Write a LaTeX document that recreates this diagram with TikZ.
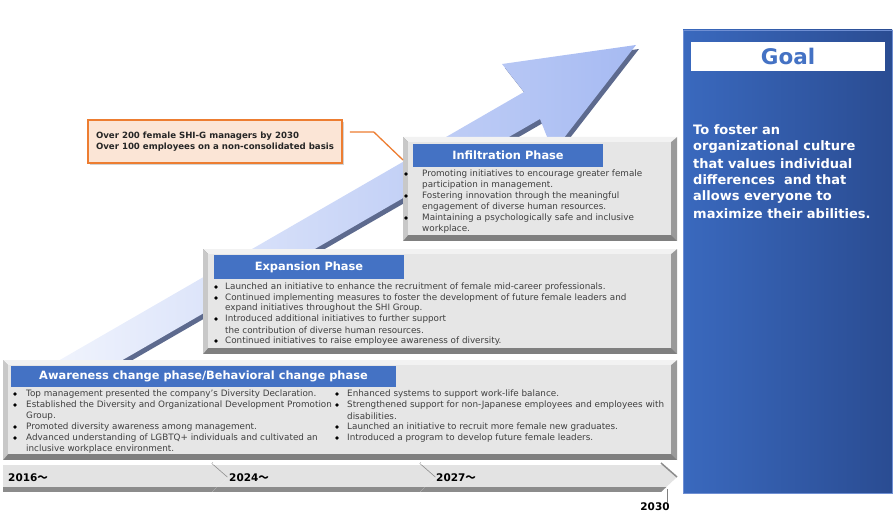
\documentclass[tikz,border=0pt]{standalone}
\usepackage{fontspec}
\setmainfont{DejaVu Sans}
\newfontfamily\cjkfont{Noto Sans CJK JP}
\usepackage{tikz}
\usepackage{xcolor}
\usetikzlibrary{shadows}
\usetikzlibrary{calc}
\usetikzlibrary{positioning}

\definecolor{headblue}{HTML}{4472C4}
\definecolor{bodygray}{HTML}{3F3F3F}
\definecolor{bevface}{HTML}{E6E6E6}
\definecolor{bevtop}{HTML}{F2F2F2}
\definecolor{bevleft}{HTML}{C8C8C8}
\definecolor{bevright}{HTML}{9A9A9A}
\definecolor{bevbottom}{HTML}{7F7F7F}
\definecolor{arrowpale}{HTML}{F2F5FD}
\definecolor{arrowblue}{HTML}{A6BAF2}
\definecolor{arrowside}{HTML}{5D6A8E}
\definecolor{goalleft}{HTML}{3A69BE}
\definecolor{goalright}{HTML}{2A4C92}
\definecolor{goalrim}{HTML}{6F8FD3}
\definecolor{calloutfill}{HTML}{FBE5D6}
\definecolor{calloutline}{HTML}{ED7D31}
\definecolor{bandface}{HTML}{E3E3E3}
\definecolor{bandedge}{HTML}{8C8C8C}

% 3D gray frame: x0 y0 x1 y1
\newcommand{\bevelframe}[4]{%
  \fill[bevbottom] (#1,#2) rectangle (#3,#4);
  \fill[bevright] (#3,#2) -- (#3,#4) -- (#3-6,#4-6) -- (#3-6,#2+5) -- cycle;
  \fill[bevtop] (#1,#2) -- (#3,#2) -- (#3-6,#2+5) -- (#1+5,#2+5) -- cycle;
  \fill[bevleft] (#1,#2) -- (#1+5,#2+5) -- (#1+5,#4-6) -- (#1,#4) -- cycle;
  \fill[bevface] (#1+5,#2+5) rectangle (#3-6,#4-6);
}

\begin{document}
\begin{tikzpicture}[x=1pt, y=-1pt,
  item/.style={anchor=west, inner sep=0pt, text=bodygray, font=\fontsize{8.8}{10}\selectfont},
  phasehead/.style={fill=headblue, text=white, inner sep=0pt, font=\bfseries\fontsize{11.4}{13}\selectfont},
  yearlbl/.style={anchor=west, inner sep=0pt, font=\bfseries\fontsize{10.5}{12}\selectfont},
  callout/.style={fill=calloutfill, draw=calloutline, line width=1.6pt, align=left, inner sep=0pt,
    text=black!85, font=\bfseries\fontsize{8.6}{11}\selectfont,
    drop shadow={shadow xshift=2pt, shadow yshift=-2pt, opacity=0.35}},
  goalline/.style={anchor=west, inner sep=0pt, text=white, font=\bfseries\fontsize{13}{15}\selectfont},
  leader/.style={draw=calloutline, line width=1.3pt}]
\useasboundingbox (0,0) rectangle (893,521);

%Arrow
\fill[arrowside] (42,376) -- (527,96) -- (505,68) -- (639,49) -- (556,156) -- (543,123) -- (58,403) -- cycle;
\shade[left color=arrowpale, right color=arrowblue]
  (39,372) -- (524,92) -- (502,64) -- (636,45) -- (553,152) -- (540,119) -- (55,399) -- cycle;

%Infiltration
\bevelframe{403}{137}{677}{241}
\path (403,160) coordinate (inflin);
\node[phasehead, minimum width=190pt, minimum height=23pt] (inflhead) at (508,155.5) {Infiltration Phase};
\foreach \ry/\rt in {174/Promoting initiatives to encourage greater female,
                      185/participation in management.,
                      196/Fostering innovation through the meaningful,
                      207/engagement of diverse human resources.,
                      218/Maintaining a psychologically safe and inclusive,
                      229/workplace.}
  \node[item] at (422,\ry) {\rt};
\foreach \ry in {174,196,218}
  \fill[black] (406,\ry) circle (1.9);

%Expansion
\bevelframe{203}{249}{677}{354}
\node[phasehead, minimum width=190pt, minimum height=24pt] (expahead) at (309,267) {Expansion Phase};
\foreach \ry/\rt in {287/Launched an initiative to enhance the recruitment of female mid-career professionals.,
                      298/Continued implementing measures to foster the development of future female leaders and,
                      308.5/expand initiatives throughout the SHI Group.,
                      319/Introduced additional initiatives to further support,
                      330/the contribution of diverse human resources.,
                      341/Continued initiatives to raise employee awareness of diversity.}
  \node[item] at (225,\ry) {\rt};
\foreach \ry in {287,298,319,341}
  \fill[black] (216,\ry) circle (1.9);

%Awareness
\bevelframe{3}{360}{677}{460}
\node[phasehead, minimum width=385pt, minimum height=21pt] (awarhead) at (203.5,376.5) {Awareness change phase/Behavioral change phase};
\foreach \ry/\rt in {394/Top management presented the company’s Diversity Declaration.,
                      405/Established the Diversity and Organizational Development Promotion,
                      416/Group.,
                      427/Promoted diversity awareness among management.,
                      438/Advanced understanding of LGBTQ+ individuals and cultivated an,
                      449/inclusive workplace environment.}
  \node[item] at (26,\ry) {\rt};
\foreach \ry/\rt in {394/Enhanced systems to support work-life balance.,
                      405/Strengthened support for  non-Japanese employees and employees with,
                      416/disabilities.,
                      427/Launched an initiative to recruit more female new graduates.,
                      438/Introduced a program to develop future female leaders.}
  \node[item] at (347,\ry) {\rt};
\foreach \ry in {394,405,427,438} {
  \fill[black] (15,\ry) circle (1.9);
  \fill[black] (337,\ry) circle (1.9);
}

%Timeline
\foreach \xa/\xb/\nt in {3/212/0, 212/420/16, 420/661/16} {
  \begin{scope}
    \clip (\xa,463) -- (\xb,463) -- (\xb+16,477) -- (\xb,492) -- (\xa,492) -- (\xa+\nt,477) -- cycle;
    \fill[bandface] (\xa,463) rectangle (\xb+16,492);
    \fill[bandedge] (\xa,487) rectangle (\xb+16,492);
    \fill[white] (\xa,463) rectangle (\xb+16,465);
  \end{scope}
  \draw[bandedge, line width=1.5pt] (\xb,463) -- (\xb+16,477);
}
\node[yearlbl] (y2016) at (8,478) {2016{\cjkfont ～}};
\node[yearlbl] (y2024) at (229,478) {2024{\cjkfont ～}};
\node[yearlbl] (y2027) at (436,478) {2027{\cjkfont ～}};
\coordinate (tlend) at (667,489);
\node[inner sep=0pt, font=\bfseries\fontsize{10.5}{12}\selectfont] (y2030) at (655,507) {2030};
\draw[gray, line width=0.8pt] (tlend) -- (tlend |- y2030.north);

%Goal
\shade[left color=goalleft, right color=goalright, draw=goalrim, line width=0.8pt] (683,30) rectangle (892,493);
\node[fill=white, inner sep=0pt, minimum width=194pt, minimum height=29pt, text=headblue,
  font=\bfseries\fontsize{21.5}{24}\selectfont] (goalhd) at (788,56.5) {Goal};
\foreach \gy/\gt in {130/To foster an, 146.7/organizational culture, 163.3/that values individual,
                     180/differences\ \ and that, 196.7/allows everyone to, 213.3/maximize their abilities.}
  \node[goalline] at (693,\gy) {\gt};

%Target
\node[callout, minimum width=254pt, minimum height=43pt] (target) at (215,141.5)
  {Over 200 female SHI-G managers by 2030\\Over 100 employees on a non-consolidated basis};
\draw[leader] ([xshift=7pt]target.east |- 0,132) -- ++(24,0) -- (inflin);
\end{tikzpicture}
\end{document}
